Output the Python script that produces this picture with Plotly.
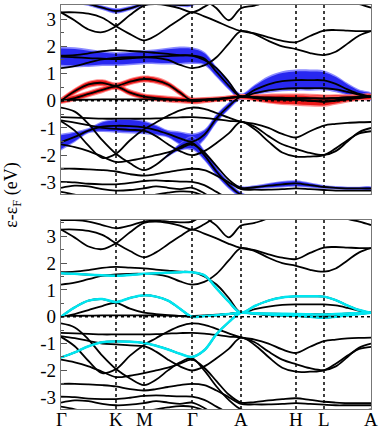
import plotly.graph_objects as go

# high-symmetry points of the path
sym_labels = ["Γ", "K", "M", "Γ", "A", "H", "L", "A"]
sym_k = [0.0, 0.55, 0.83, 1.31, 1.80, 2.35, 2.63, 3.10]

# k sampling along Γ-K-M-Γ-A-H-L-A
kpts = [0.0, 0.1375, 0.275, 0.4125, 0.55, 0.69, 0.83, 0.95, 1.07, 1.19, 1.31,
        1.4325, 1.555, 1.6775, 1.80, 1.9375, 2.075, 2.2125, 2.35, 2.49, 2.63,
        2.7475, 2.865, 2.9825, 3.10]

# band energies (eV, relative to E_F) read at kpts
c1 = [3.6, 3.6, 3.55, 3.42, 3.3, 3.4, 3.55, 3.58, 3.55, 3.52, 3.55, 3.85, 4.3, 4.3, 4.3,
      4.3, 4.3, 4.3, 4.3, 4.3, 4.3, 3.9, 3.65, 3.55, 3.42]
c1b = [4.3, 4.3, 4.3, 4.3, 4.3, 4.3, 4.3, 4.3, 4.3, 4.3, 4.3, 3.75, 3.4, 2.96, 3.4,
       3.5, 3.7, 4.3, 4.3, 4.3, 4.3, 4.3, 4.3, 4.3, 4.3]
c2 = [3.25, 3.25, 3.2, 3.05, 2.74, 2.45, 2.22, 2.4, 2.7, 3.0, 3.25, 3.1, 2.92, 2.72, 2.56,
      2.48, 2.33, 2.2, 2.15, 2.38, 2.58, 2.6, 2.58, 2.56, 2.56]
c3 = [3.25, 2.95, 2.62, 2.52, 2.74, 3.15, 3.5, 3.55, 3.5, 3.4, 3.25, 3.45, 3.75, 4.1, 4.3,
      4.3, 4.3, 4.3, 4.3, 4.3, 4.3, 4.3, 4.3, 4.3, 4.3]
c4 = [1.2, 1.27, 1.4, 1.52, 1.58, 1.6, 1.6, 1.58, 1.5, 1.32, 1.2, 1.3, 1.6, 2.1, 2.56,
      2.45, 2.2, 2.0, 1.9, 1.75, 1.68, 1.8, 2.1, 2.4, 2.56]
c5 = [1.66, 1.68, 1.74, 1.82, 1.86, 1.83, 1.8, 1.76, 1.72, 1.68, 1.66, 1.5, 1.2, 0.7, 0.15,
      0.28, 0.38, 0.44, 0.46, 0.46, 0.46, 0.42, 0.33, 0.22, 0.15]
c6 = [1.62, 1.6, 1.57, 1.55, 1.53, 1.56, 1.6, 1.62, 1.64, 1.66, 1.66, 1.55, 1.06, 0.56, 0.15,
      0.4, 0.6, 0.72, 0.76, 0.76, 0.75, 0.62, 0.42, 0.25, 0.15]
f_up = [0.0, 0.35, 0.6, 0.66, 0.55, 0.7, 0.8, 0.75, 0.6, 0.3, 0.0, 0.03, 0.06, 0.1, 0.15,
        0.13, 0.12, 0.11, 0.1, 0.09, 0.08, 0.1, 0.12, 0.14, 0.15]
f_low = [0.0, 0.1, 0.25, 0.4, 0.52, 0.3, 0.15, 0.1, 0.06, 0.03, 0.0, 0.02, 0.05, 0.1, 0.15,
         0.1, 0.06, 0.04, 0.03, 0.0, -0.02, 0.02, 0.07, 0.12, 0.15]
f_flat = [0.03, 0.03, 0.04, 0.05, 0.05, 0.05, 0.05, 0.05, 0.04, 0.03, 0.03, 0.05, 0.08, 0.11, 0.15,
          0.12, 0.1, 0.09, 0.09, 0.09, 0.08, 0.1, 0.12, 0.14, 0.15]
va = [-0.6, -0.62, -0.64, -0.66, -0.66, -0.66, -0.66, -0.65, -0.63, -0.61, -0.6, -0.63, -0.68, -0.74, -0.77,
      -0.95, -1.3, -1.6, -1.77, -1.92, -1.99, -1.85, -1.5, -1.15, -1.0]
vb = [-0.25, -0.4, -0.85, -1.45, -1.95, -2.3, -2.55, -2.35, -2.0, -1.7, -1.55, -2.0, -2.6, -3.1, -3.45,
      -3.55, -3.7, -3.8, -3.8, -3.8, -3.8, -3.8, -3.65, -3.55, -3.45]
vc = [-0.75, -1.1, -1.65, -2.1, -1.95, -1.45, -1.05, -0.8, -0.55, -0.35, -0.25, -0.3, -0.45, -0.62, -0.77,
      -0.85, -1.0, -1.22, -1.35, -1.12, -0.91, -0.85, -0.81, -0.79, -0.78]
vd = [-1.52, -1.33, -1.1, -0.95, -0.92, -0.93, -0.98, -1.08, -1.22, -1.38, -1.5, -1.25, -0.65, -0.2, 0.15,
      0.12, 0.08, 0.05, 0.04, 0.0, -0.04, 0.0, 0.05, 0.1, 0.15]
ve = [-0.72, -0.8, -0.9, -1.0, -1.03, -1.07, -1.1, -1.3, -1.6, -1.85, -2.0, -1.85, -1.55, -1.2, -0.78,
      -1.05, -1.5, -1.9, -2.05, -2.05, -2.0, -1.75, -1.45, -1.2, -1.12]
vf = [-1.6, -1.7, -1.85, -2.05, -2.25, -2.2, -2.1, -2.0, -1.9, -1.75, -1.6, -1.9, -2.4, -2.9, -3.2,
      -3.18, -3.12, -3.07, -3.04, -3.1, -3.17, -3.2, -3.22, -3.22, -3.22]
vg = [-2.5, -2.5, -2.52, -2.55, -2.6, -2.7, -2.75, -2.7, -2.62, -2.55, -2.5, -2.55, -2.75, -3.0, -3.25,
      -3.27, -3.27, -3.25, -3.22, -3.25, -3.28, -3.3, -3.3, -3.3, -3.3]
vh = [-2.98, -3.0, -3.05, -3.07, -3.07, -3.02, -2.95, -2.93, -2.95, -2.97, -2.98, -3.1, -3.35, -3.6, -3.8,
      -3.8, -3.8, -3.8, -3.8, -3.8, -3.8, -3.8, -3.8, -3.8, -3.8]
vi = [-3.2, -3.12, -3.15, -3.25, -3.3, -3.28, -3.22, -3.15, -3.2, -3.25, -3.2, -3.4, -3.7, -3.8, -3.8,
      -3.8, -3.8, -3.8, -3.8, -3.8, -3.8, -3.8, -3.8, -3.8, -3.8]
vj = [-3.35, -3.45, -3.6, -3.7, -3.7, -3.65, -3.55, -3.45, -3.38, -3.33, -3.35, -3.5, -3.7, -3.8, -3.8,
      -3.8, -3.8, -3.8, -3.8, -3.8, -3.8, -3.8, -3.8, -3.8, -3.8]

bands = [c1, c1b, c2, c3, c4, c5, c6, f_up, f_low, f_flat, va, vb, vc, vd, ve, vf, vg, vh, vi, vj]
cyan_bands = [c6, f_up, vd]

# projected weights (half width of fat band, eV) for the upper panel
w_c6 = [0.3, 0.3, 0.27, 0.22, 0.2, 0.2, 0.2, 0.22, 0.25, 0.27, 0.25, 0.2, 0.15, 0.12, 0.08,
        0.15, 0.25, 0.3, 0.32, 0.32, 0.3, 0.25, 0.18, 0.12, 0.1]
w_vd = [0.25, 0.15, 0.06, 0.15, 0.2, 0.22, 0.2, 0.15, 0.1, 0.2, 0.25, 0.15, 0.12, 0.1, 0.06,
        0.0, 0.0, 0.0, 0.0, 0.0, 0.0, 0.0, 0.0, 0.0, 0.0]
w_vb = [0.0, 0.0, 0.0, 0.0, 0.0, 0.0, 0.0, 0.0, 0.03, 0.1, 0.2, 0.15, 0.12, 0.1, 0.06,
        0.0, 0.0, 0.0, 0.0, 0.0, 0.0, 0.0, 0.0, 0.0, 0.0]
w_vf = [0.0, 0.0, 0.0, 0.0, 0.0, 0.0, 0.0, 0.0, 0.0, 0.0, 0.0, 0.0, 0.0, 0.0, 0.03,
        0.04, 0.06, 0.08, 0.08, 0.06, 0.04, 0.03, 0.03, 0.03, 0.03]
w_c1 = [0.04, 0.02, 0.03, 0.05, 0.06, 0.05, 0.03, 0.02, 0.02, 0.03, 0.05, 0.0, 0.0, 0.0, 0.0,
        0.0, 0.0, 0.0, 0.0, 0.0, 0.0, 0.0, 0.0, 0.0, 0.0]
w_fup = [0.08, 0.08, 0.09, 0.09, 0.08, 0.09, 0.09, 0.09, 0.08, 0.08, 0.08, 0.07, 0.06, 0.06, 0.06,
         0.08, 0.1, 0.11, 0.12, 0.12, 0.11, 0.1, 0.08, 0.07, 0.06]
w_flow = [0.08, 0.08, 0.08, 0.08, 0.08, 0.08, 0.08, 0.08, 0.08, 0.08, 0.08, 0.07, 0.06, 0.06, 0.06,
          0.08, 0.12, 0.15, 0.16, 0.16, 0.15, 0.12, 0.09, 0.07, 0.06]

blue_fat = [(c6, w_c6), (vd, w_vd), (vb, w_vb), (vf, w_vf), (c1, w_c1)]
red_fat = [(f_up, w_fup), (f_low, w_flow)]

fig = go.Figure()


def add_fat(e, w, color, halo):
    # soft fringe first, then the solid band
    for col, scale, pad in [(halo, 1.12, 0.03), (color, 1.0, 0.0)]:
        upper = [a + b * scale + (pad if b > 0 else 0) for a, b in zip(e, w)]
        lower = [a - b * scale - (pad if b > 0 else 0) for a, b in zip(e, w)]
        fig.add_trace(go.Scatter(x=kpts + kpts[::-1], y=upper + lower[::-1], xaxis="x", yaxis="y",
                                 mode="lines", fill="toself", fillcolor=col,
                                 line=dict(width=0, shape="spline"), hoverinfo="skip"))


for e, w in blue_fat:
    add_fat(e, w, "rgb(40,40,240)", "rgba(110,110,255,0.8)")
for e, w in red_fat:
    add_fat(e, w, "rgb(235,25,25)", "rgba(255,110,110,0.8)")

for xa, ya in [("x", "y"), ("x2", "y2")]:
    for e in bands:
        fig.add_trace(go.Scatter(x=kpts, y=e, xaxis=xa, yaxis=ya, mode="lines",
                                 line=dict(color="black", width=1.8, shape="spline")))
for e in cyan_bands:
    fig.add_trace(go.Scatter(x=kpts, y=e, xaxis="x2", yaxis="y2", mode="lines",
                             line=dict(color="rgb(0,230,240)", width=2.5, shape="spline")))

# dotted guides at the high-symmetry points and at E_F
for xr, yr in [("x", "y"), ("x2", "y2")]:
    for k in sym_k[1:-1]:
        fig.add_shape(type="line", x0=k, x1=k, y0=0, y1=1, xref=xr, yref=yr + " domain",
                      line=dict(color="black", width=1.5, dash="dot"), layer="above")
    fig.add_shape(type="line", x0=0, x1=1, y0=0, y1=0, xref=xr + " domain", yref=yr,
                  line=dict(color="black", width=1.5, dash="dot"), layer="above")

serif = dict(family="Liberation Serif", size=19, color="black")
yticks = [-3, -2, -1, 0, 1, 2, 3]
ytext = ["-3", "-2", "-1", "0", "1", "2", "3"]
frame = dict(showline=True, linecolor="#777", linewidth=1.2, mirror=True,
             showgrid=False, zeroline=False, automargin=False)

fig.update_layout(
    width=382, height=431, showlegend=False,
    margin=dict(l=61, r=11, t=5, b=22),
    plot_bgcolor="white", paper_bgcolor="white",
    xaxis=dict(domain=[0, 1], anchor="y", range=[0, 3.10], showticklabels=False,
               ticks="", **frame),
    xaxis2=dict(domain=[0, 1], anchor="y2", range=[0, 3.10], matches="x",
                showticklabels=False, ticks="", **frame),
    yaxis=dict(domain=[0.532, 1.0], anchor="x", range=[-3.43, 3.52],
               tickvals=yticks, ticktext=ytext, ticks="inside", ticklen=6, tickcolor="#555",
               minor=dict(ticks="inside", ticklen=3, dtick=0.5, tickcolor="#555"),
               tickfont=serif, **frame),
    yaxis2=dict(domain=[0, 0.468], anchor="x2", range=[-3.44, 3.61],
                tickvals=yticks, ticktext=ytext, ticks="inside", ticklen=6, tickcolor="#555",
                minor=dict(ticks="inside", ticklen=3, dtick=0.5, tickcolor="#555"),
                tickfont=serif, **frame),
)

# k-point labels under the lower panel
for k, lab in zip(sym_k, sym_labels):
    fig.add_annotation(text=lab, x=k, xref="x2", y=0, yref="paper", yanchor="top",
                       yshift=1, borderpad=0, showarrow=False, font=serif)

fig.add_annotation(text="ε-ε<sub>F</sub> (eV)", textangle=-90, xref="paper", yref="paper",
                   x=-0.155, y=0.53, xanchor="center", yanchor="middle", showarrow=False,
                   font=dict(family="Liberation Serif", size=18, color="black"))

# drop the browser's default page margin so the figure sits at the window origin
fig.write_html("out.html", config={"displayModeBar": False},
               post_script="document.body.style.margin='0';")
